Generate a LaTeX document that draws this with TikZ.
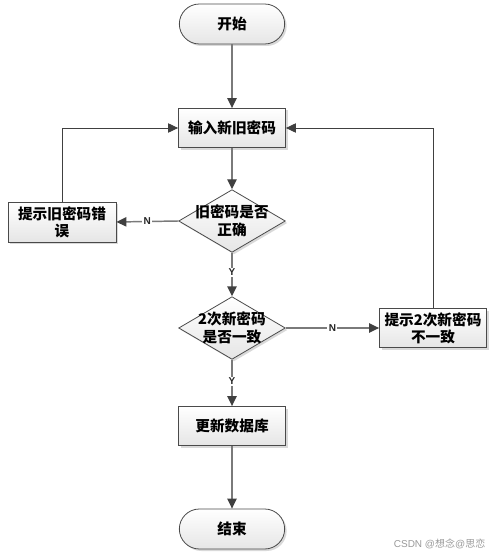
\documentclass[tikz,border=0pt]{standalone}
\usepackage{fontspec}
\newfontfamily\cjk{Noto Sans CJK SC}
\newfontfamily\lsans{Liberation Sans}
\usetikzlibrary{shapes.geometric,arrows.meta,shadows}
\definecolor{bordc}{HTML}{4A4A4A}
\definecolor{linec}{HTML}{7A7A7A}
\definecolor{tipc}{HTML}{404040}
\begin{document}
\begin{tikzpicture}[x=0.75pt,y=-0.75pt,
  base/.style={draw=bordc,line width=0.6pt,top color=white,bottom color=black!10,
    drop shadow={shadow xshift=1.5pt,shadow yshift=-1.5pt,opacity=0.25,fill=black!60},
    font=\cjk\bfseries\fontsize{11}{13}\selectfont,align=center,inner sep=0pt},
  term/.style={base,rounded corners=15pt,minimum width=79pt,minimum height=30pt},
  proc/.style={base,rectangle,minimum width=80.25pt,minimum height=29.25pt},
  dec/.style={base,diamond,minimum width=80pt,minimum height=47pt},
  txt/.style={font=\cjk\bfseries\fontsize{11}{13.5}\selectfont,align=center,inner sep=0pt},
  flow/.style={draw=linec,line width=1.1pt,-{Triangle[length=7.5pt,width=7pt,color=tipc]}},
  lab/.style={font=\lsans\bfseries\fontsize{7.5}{8}\selectfont,fill=white,inner sep=1pt,text=black!85}]
\useasboundingbox (0,0) rectangle (496,556);
\node[term] (start) at (232,24) {开始};
\node[proc] (input) at (232,128) {输入新旧密码};
\node[dec] (d1) at (232,221) {};
\node[txt] (d1t) at (232,221) {旧密码是否\\正确};
\node[proc,minimum width=81pt,minimum height=30pt] (errold) at (62,222) {提示旧密码错\\误};
\node[dec] (d2) at (232,328) {};
\node[txt] (d2t) at (232,328) {2次新密码\\是否一致};
\node[proc] (errnew) at (433,328) {提示2次新密码\\不一致};
\node[proc] (update) at (232,426) {更新数据库};
\node[term] (end) at (232,529) {结束};
\coordinate (cl) at (62,128);
\coordinate (cr) at (433,128);
\draw[flow] (start) -- (input);
\draw[flow] (input) -- (d1);
\draw[flow] (d1) -- node[lab,pos=0.45] (y1) {Y} (d2);
\draw[flow] (d2) -- node[lab,pos=0.47] (y2) {Y} (update);
\draw[flow] (update) -- (end);
\draw[flow] (d1.west) -- node[lab,pos=0.5] (n1) {N} (errold.east);
\draw[flow] (d2.east) -- node[lab,pos=0.5] (n2) {N} (errnew.west);
\draw[draw=black!75,line width=0.7pt,-{Triangle[length=7.5pt,width=7pt,color=tipc]}] (errold.north) -- (cl) -- (input.west);
\draw[draw=black!75,line width=0.7pt,-{Triangle[length=7.5pt,width=7pt,color=tipc]}] (errnew.north) -- (cr) -- (input.east);
\node[font=\lsans\fontsize{7.5}{8}\selectfont,text=black!40,anchor=east] (wm) at (490,544) {CSDN @{\cjk 想念}@{\cjk 思恋}};
\end{tikzpicture}
\end{document}
